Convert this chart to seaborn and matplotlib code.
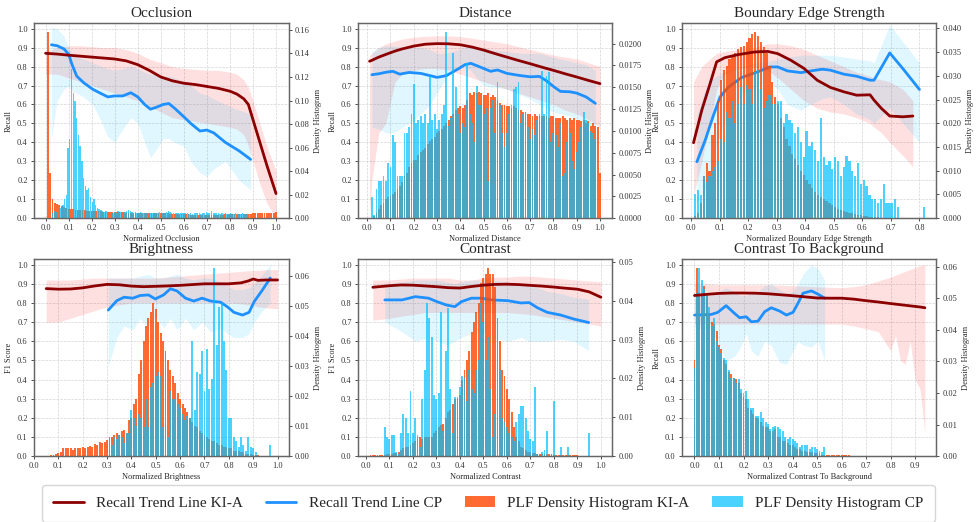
import numpy as np
import matplotlib
matplotlib.use("Agg")
import matplotlib.pyplot as plt
import seaborn as sns
from matplotlib.ticker import MultipleLocator
from matplotlib.patches import Patch
from matplotlib.lines import Line2D

# ---------------- Occlusion ----------------
occ_ka_x = [0.0, 0.05, 0.1, 0.15, 0.2, 0.25, 0.3, 0.35, 0.4, 0.45, 0.5, 0.55, 0.6, 0.65, 0.7, 0.75, 0.8, 0.83, 0.86, 0.88, 0.9, 0.93, 0.96, 1.0]
occ_ka_y = [0.87, 0.866, 0.86, 0.855, 0.85, 0.845, 0.84, 0.83, 0.81, 0.78, 0.745, 0.725, 0.712, 0.705, 0.695, 0.685, 0.67, 0.655, 0.63, 0.6, 0.52, 0.4, 0.28, 0.13]
occ_ka_hi = [0.88, 0.9, 0.91, 0.91, 0.905, 0.9, 0.9, 0.89, 0.87, 0.84, 0.82, 0.8, 0.79, 0.785, 0.78, 0.78, 0.77, 0.76, 0.73, 0.69, 0.62, 0.5, 0.38, 0.25]
occ_ka_lo = [0.76, 0.76, 0.74, 0.72, 0.7, 0.68, 0.66, 0.64, 0.62, 0.59, 0.56, 0.53, 0.52, 0.51, 0.5, 0.49, 0.48, 0.47, 0.44, 0.38, 0.3, 0.18, 0.08, 0.0]
occ_cp_x = [0.025, 0.05, 0.08, 0.1, 0.115, 0.135, 0.165, 0.205, 0.245, 0.27, 0.3, 0.335, 0.37, 0.4, 0.43, 0.455, 0.48, 0.51, 0.535, 0.56, 0.6, 0.63, 0.67, 0.7, 0.73, 0.78, 0.84, 0.89]
occ_cp_y = [0.915, 0.91, 0.893, 0.865, 0.81, 0.75, 0.715, 0.68, 0.655, 0.64, 0.645, 0.645, 0.662, 0.64, 0.6, 0.575, 0.585, 0.6, 0.605, 0.58, 0.535, 0.5, 0.46, 0.465, 0.45, 0.4, 0.355, 0.31]
occ_cp_hi = [1.01, 1.0, 0.96, 0.9, 0.87, 0.85, 0.84, 0.82, 0.8, 0.79, 0.78, 0.79, 0.8, 0.79, 0.77, 0.76, 0.76, 0.75, 0.75, 0.74, 0.72, 0.7, 0.66, 0.65, 0.63, 0.6, 0.57, 0.55]
occ_cp_lo = [0.42, 0.62, 0.68, 0.7, 0.67, 0.66, 0.64, 0.6, 0.5, 0.43, 0.4, 0.47, 0.53, 0.5, 0.4, 0.32, 0.36, 0.42, 0.42, 0.4, 0.38, 0.3, 0.24, 0.22, 0.26, 0.3, 0.2, 0.15]
occ_hka_range = (0.01, 1.0)
occ_hka = [0.158, 0.0386, 0.0161, 0.0129, 0.0121, 0.0113, 0.0105, 0.0097, 0.0089, 0.0081,
           0.0077, 0.0074, 0.0072, 0.0071, 0.0069, 0.0068, 0.0066, 0.0064, 0.0064, 0.0063,
           0.0061, 0.006, 0.0058, 0.0058, 0.0056, 0.0056, 0.0055, 0.0055, 0.0053, 0.0053,
           0.0052, 0.0052, 0.005, 0.005, 0.0048, 0.0048, 0.0048, 0.0048, 0.0047, 0.0047,
           0.0047, 0.0045, 0.0045, 0.0045, 0.0043, 0.0043, 0.0043, 0.0042, 0.0042, 0.0042,
           0.004, 0.004, 0.004, 0.0039, 0.0039, 0.0037, 0.0037, 0.0035, 0.0035, 0.0034,
           0.0032, 0.0032, 0.0031, 0.0029, 0.0027, 0.0026, 0.0026, 0.0024, 0.0024, 0.0024,
           0.0024, 0.0024, 0.0026, 0.0026, 0.0027, 0.0029, 0.0031, 0.0032, 0.0032, 0.0034,
           0.0034, 0.0035, 0.0035, 0.0035, 0.0037, 0.0037, 0.0037, 0.0039, 0.0039, 0.004,
           0.004, 0.0042, 0.0042, 0.0043, 0.0043, 0.0043, 0.0045, 0.0045, 0.0047, 0.0056]
occ_hcp_range = (0.03, 0.885)
occ_hcp = [0.0048, 0.0064, 0.0056, 0.0064, 0.008, 0.0089, 0.0113, 0.0161, 0.0193,
           0.0596, 0.0676, 0.1264, 0.1063, 0.0998, 0.0853, 0.0708, 0.0612, 0.0483, 0.0338, 0.0274,
           0.0242, 0.0258, 0.0177, 0.0137, 0.0161, 0.0113, 0.0089, 0.008, 0.0072,
           0.0064, 0.0056, 0.0064, 0.0048, 0.0056, 0.0048, 0.0048, 0.0056, 0.0048, 0.0064,
           0.0056, 0.0048, 0.0048, 0.0056, 0.0064, 0.0072, 0.0064, 0.0056, 0.0048, 0.0056,
           0.0048, 0.0048, 0.0056, 0.0048, 0.004, 0.0048, 0.0048, 0.004, 0.0048, 0.0048,
           0.004, 0.0048, 0.0048, 0.0056, 0.0048, 0.004, 0.0048, 0.0056, 0.0064, 0.0056,
           0.0048, 0.004, 0.0048, 0.0048, 0.004, 0.0048, 0.004, 0.0048, 0.0048, 0.004,
           0.0032, 0.004, 0.0032, 0.004, 0.004, 0.0048, 0.004, 0.0032, 0.004, 0.0048,
           0.0056, 0.0048, 0.004, 0.0064, 0.0048, 0.004, 0.0048, 0.004, 0.0032, 0.004,
           0.0032, 0.004, 0.0032, 0.0032, 0.004, 0.0032, 0.0032, 0.004, 0.0032, 0.0032,
           0.0032, 0.004, 0.0032, 0.0032, 0.0024, 0.0032]

# ---------------- Distance ----------------
dist_ka_x = [0.01, 0.02, 0.05, 0.08, 0.12, 0.15, 0.2, 0.25, 0.3, 0.35, 0.4, 0.45, 0.5, 0.55, 0.6, 0.65, 0.7, 0.75, 0.8, 0.85, 0.9, 0.95, 1.0]
dist_ka_y = [0.828, 0.833, 0.85, 0.864, 0.882, 0.893, 0.908, 0.918, 0.921, 0.92, 0.915, 0.903, 0.887, 0.868, 0.85, 0.832, 0.815, 0.797, 0.78, 0.762, 0.745, 0.727, 0.71]
dist_ka_hi = [0.86, 0.87, 0.9, 0.92, 0.935, 0.945, 0.955, 0.96, 0.962, 0.962, 0.958, 0.95, 0.94, 0.93, 0.92, 0.905, 0.89, 0.875, 0.86, 0.85, 0.84, 0.82, 0.8]
dist_ka_lo = [0.0, 0.2, 0.45, 0.5, 0.72, 0.76, 0.78, 0.79, 0.79, 0.78, 0.76, 0.74, 0.72, 0.7, 0.68, 0.66, 0.64, 0.62, 0.6, 0.57, 0.55, 0.52, 0.48]
dist_cp_x = [0.02, 0.05, 0.08, 0.11, 0.14, 0.18, 0.23, 0.27, 0.3, 0.34, 0.39, 0.42, 0.445, 0.47, 0.5, 0.53, 0.56, 0.6, 0.66, 0.7, 0.74, 0.77, 0.8, 0.83, 0.87, 0.9, 0.94, 0.98]
dist_cp_y = [0.757, 0.762, 0.77, 0.775, 0.76, 0.769, 0.764, 0.752, 0.743, 0.752, 0.787, 0.81, 0.817, 0.805, 0.79, 0.775, 0.782, 0.764, 0.752, 0.746, 0.748, 0.725, 0.695, 0.669, 0.667, 0.66, 0.64, 0.606]
dist_cp_hi = [0.88, 0.9, 0.91, 0.91, 0.905, 0.9, 0.9, 0.89, 0.87, 0.87, 0.89, 0.9, 0.91, 0.905, 0.9, 0.89, 0.885, 0.88, 0.87, 0.87, 0.87, 0.86, 0.85, 0.84, 0.83, 0.82, 0.81, 0.78]
dist_cp_lo = [0.48, 0.47, 0.45, 0.45, 0.47, 0.5, 0.55, 0.6, 0.66, 0.74, 0.8, 0.8, 0.78, 0.74, 0.7, 0.69, 0.69, 0.68, 0.65, 0.63, 0.6, 0.58, 0.56, 0.55, 0.54, 0.52, 0.5, 0.47]
dist_hka_range = (0.02, 1.0)
dist_hka = [0.0, 0.0002, 0.00065, 0.0011, 0.0015, 0.0017, 0.0022, 0.0024, 0.0026, 0.0028,
            0.003, 0.0033, 0.0037, 0.0041, 0.0048, 0.0052, 0.0059, 0.0063, 0.0067, 0.0067,
            0.0072, 0.0076, 0.0078, 0.008, 0.0085, 0.0089, 0.0091, 0.0093, 0.0098, 0.01,
            0.0102, 0.0106, 0.0109, 0.0113, 0.0117, 0.0119, 0.0124, 0.0126, 0.0128, 0.0126,
            0.013, 0.0135, 0.0143, 0.0141, 0.0145, 0.0143, 0.0145, 0.0143, 0.0141, 0.0141,
            0.0143, 0.0139, 0.0141, 0.0139, 0.0135, 0.0132, 0.013, 0.013, 0.0128, 0.0128,
            0.0126, 0.0128, 0.0126, 0.0124, 0.0124, 0.0122, 0.0122, 0.0119, 0.0119, 0.0117,
            0.0119, 0.0117, 0.0117, 0.0117, 0.0117, 0.0117, 0.0115, 0.0117, 0.0117, 0.0115,
            0.0115, 0.0115, 0.0117, 0.0115, 0.0113, 0.0115, 0.0113, 0.0115, 0.0113, 0.0113,
            0.0111, 0.0113, 0.0109, 0.0111, 0.0106, 0.0109, 0.0106, 0.0104, 0.0052]
dist_hcp_range = (0.02, 0.98)
dist_hcp = [0.0024, 0.0004, 0.0033, 0.0043, 0.0043, 0.0048, 0.0043, 0.0063, 0.0059, 0.0095,
            0.0087, 0.0048, 0.0048, 0.0048, 0.0098, 0.0098, 0.0104, 0.0119, 0.0154, 0.0109,
            0.0113, 0.0117, 0.0109, 0.0119, 0.0109, 0.0163, 0.0113, 0.0119, 0.0102, 0.0113,
            0.0119, 0.013, 0.0213, 0.0106, 0.0115, 0.0189, 0.015, 0.0119, 0.0098, 0.0109,
            0.0104, 0.0178, 0.0119, 0.0109, 0.0087, 0.0152, 0.013, 0.013, 0.0119, 0.0126,
            0.0043, 0.0126, 0.0135, 0.0098, 0.0156, 0.013, 0.0098, 0.0082, 0.0098, 0.0119,
            0.013, 0.0148, 0.015, 0.0156, 0.0109, 0.0119, 0.0109, 0.0104, 0.0091, 0.0102,
            0.0095, 0.0113, 0.0119, 0.0169, 0.0119, 0.0163, 0.0167, 0.0087, 0.0098, 0.0095,
            0.0082, 0.0109, 0.0048, 0.0052, 0.0087, 0.0098, 0.0065, 0.0056, 0.0076, 0.0087,
            0.0104, 0.0122, 0.0113, 0.0109, 0.01, 0.0098, 0.0091]

# ---------------- Boundary Edge Strength ----------------
bes_ka_x = [0.009, 0.038, 0.067, 0.09, 0.119, 0.165, 0.223, 0.269, 0.304, 0.35, 0.396, 0.442, 0.488, 0.535, 0.58, 0.627, 0.641, 0.667, 0.696, 0.742, 0.777]
bes_ka_y = [0.398, 0.57, 0.71, 0.825, 0.847, 0.863, 0.877, 0.88, 0.868, 0.833, 0.79, 0.728, 0.69, 0.667, 0.649, 0.651, 0.623, 0.579, 0.539, 0.535, 0.539]
bes_ka_hi = [0.72, 0.8, 0.84, 0.87, 0.88, 0.89, 0.9, 0.92, 0.92, 0.91, 0.89, 0.86, 0.83, 0.8, 0.77, 0.75, 0.74, 0.73, 0.72, 0.68, 0.62]
bes_ka_lo = [0.12, 0.3, 0.5, 0.68, 0.76, 0.79, 0.8, 0.78, 0.74, 0.68, 0.62, 0.58, 0.56, 0.55, 0.53, 0.5, 0.48, 0.45, 0.4, 0.33, 0.27]
bes_cp_x = [0.021, 0.05, 0.079, 0.102, 0.13, 0.177, 0.234, 0.275, 0.304, 0.338, 0.385, 0.419, 0.46, 0.488, 0.535, 0.58, 0.627, 0.641, 0.696, 0.742, 0.8]
bes_cp_y = [0.298, 0.412, 0.544, 0.64, 0.69, 0.742, 0.772, 0.798, 0.798, 0.777, 0.768, 0.777, 0.786, 0.781, 0.76, 0.749, 0.728, 0.728, 0.872, 0.789, 0.679]
bes_cp_hi = [0.55, 0.68, 0.74, 0.76, 0.78, 0.8, 0.82, 0.83, 0.84, 0.85, 0.86, 0.86, 0.86, 0.86, 0.85, 0.84, 0.83, 0.82, 1.02, 0.93, 0.82]
bes_cp_lo = [0.08, 0.15, 0.3, 0.45, 0.55, 0.65, 0.7, 0.72, 0.68, 0.6, 0.57, 0.6, 0.63, 0.64, 0.6, 0.55, 0.52, 0.5, 0.58, 0.5, 0.4]
bes_hka_range = (0.015, 0.655)
bes_hka = [0.0004, 0.0012, 0.0032, 0.0088, 0.0116, 0.01, 0.0176, 0.02, 0.0248, 0.0292,
           0.0312, 0.032, 0.0336, 0.034, 0.0348, 0.0356, 0.036, 0.0364, 0.0372, 0.038,
           0.0388, 0.0392, 0.0384, 0.0372, 0.036, 0.0348, 0.032, 0.0288, 0.0256, 0.024,
           0.0212, 0.0192, 0.0168, 0.0152, 0.0136, 0.0124, 0.0112, 0.01, 0.0092, 0.008,
           0.0072, 0.0064, 0.0056, 0.0048, 0.0044, 0.004, 0.0036, 0.0032, 0.0028, 0.0024,
           0.002, 0.0018, 0.0016, 0.0014, 0.0012, 0.001, 0.0008, 0.0007, 0.0006, 0.0005,
           0.0004, 0.0003, 0.00024, 0.0002, 0.00016]
bes_hcp_range = (0.015, 0.815)
bes_hcp = [0.0052, 0.006, 0.0048, 0.0088, 0.0076, 0.0088, 0.01, 0.0108, 0.012, 0.0168,
           0.016, 0.0224, 0.0212, 0.0248, 0.02, 0.024, 0.0276, 0.024, 0.028, 0.0272,
           0.024, 0.0308, 0.0312, 0.0272, 0.0232, 0.0248, 0.026, 0.024, 0.024, 0.0248,
           0.0248, 0.02, 0.022, 0.0208, 0.02, 0.018, 0.0192, 0.016, 0.0128, 0.0184,
           0.0152, 0.016, 0.0144, 0.012, 0.0212, 0.0128, 0.0112, 0.012, 0.0104, 0.0128,
           0.012, 0.0088, 0.0108, 0.0132, 0.012, 0.01, 0.0088, 0.0116, 0.0072, 0.008,
           0.0068, 0.0048, 0.004, 0.004, 0.0032, 0.004, 0.0072, 0.0032, 0.0032, 0.0032,
           0.004, 0.0024, 0, 0, 0, 0, 0, 0, 0, 0, 0.0024]

# ---------------- Brightness ----------------
bri_ka_x = [0.05, 0.1, 0.15, 0.2, 0.25, 0.3, 0.35, 0.4, 0.45, 0.5, 0.55, 0.6, 0.65, 0.7, 0.75, 0.8, 0.85, 0.88, 0.9, 0.92, 0.95, 1.0]
bri_ka_y = [0.875, 0.872, 0.873, 0.879, 0.889, 0.897, 0.895, 0.888, 0.885, 0.887, 0.889, 0.892, 0.896, 0.9, 0.9, 0.9, 0.905, 0.915, 0.925, 0.918, 0.92, 0.92]
bri_ka_hi = [0.92, 0.92, 0.92, 0.925, 0.93, 0.93, 0.93, 0.93, 0.93, 0.93, 0.935, 0.94, 0.945, 0.95, 0.955, 0.96, 0.965, 0.968, 0.97, 0.97, 0.973, 0.975]
bri_ka_lo = [0.7, 0.7, 0.72, 0.74, 0.76, 0.78, 0.79, 0.8, 0.8, 0.8, 0.8, 0.8, 0.8, 0.8, 0.8, 0.8, 0.795, 0.79, 0.785, 0.78, 0.775, 0.77]
bri_cp_x = [0.305, 0.34, 0.37, 0.406, 0.436, 0.47, 0.498, 0.532, 0.56, 0.587, 0.622, 0.656, 0.69, 0.725, 0.766, 0.794, 0.821, 0.856, 0.883, 0.904, 0.938, 0.97]
bri_cp_y = [0.763, 0.812, 0.83, 0.825, 0.839, 0.842, 0.821, 0.842, 0.874, 0.863, 0.825, 0.81, 0.825, 0.81, 0.804, 0.78, 0.751, 0.737, 0.751, 0.807, 0.868, 0.93]
bri_cp_hi = [0.93, 0.93, 0.93, 0.93, 0.94, 0.95, 0.93, 0.93, 0.94, 0.95, 0.93, 0.92, 0.93, 0.93, 0.91, 0.89, 0.87, 0.87, 0.88, 0.9, 0.95, 1.0]
bri_cp_lo = [0.47, 0.62, 0.68, 0.66, 0.72, 0.66, 0.73, 0.67, 0.72, 0.66, 0.72, 0.66, 0.7, 0.65, 0.67, 0.64, 0.62, 0.62, 0.64, 0.7, 0.76, 0.8]
bri_hka_range = (0.07, 0.97)
bri_hka = [0.0003, 0.0003, 0.0006, 0.001, 0.0013, 0.0029, 0.0029, 0.0026, 0.0029, 0.0022,
           0.0029, 0.0026, 0.0029, 0.0032, 0.0029, 0.0032, 0.0035, 0.0032, 0.0042, 0.0038,
           0.0048, 0.0045, 0.0048, 0.0054, 0.0064, 0.0064, 0.007, 0.0077, 0.007, 0.0083,
           0.0089, 0.0077, 0.0121, 0.0128, 0.0173, 0.0192, 0.0275, 0.032, 0.0383, 0.0435,
           0.046, 0.0479, 0.0511, 0.0492, 0.0447, 0.0409, 0.0383, 0.0351, 0.032, 0.0288,
           0.0268, 0.0243, 0.0211, 0.0192, 0.0173, 0.016, 0.0147, 0.0128, 0.0115, 0.0102,
           0.0096, 0.0083, 0.0077, 0.007, 0.0064, 0.0058, 0.0051, 0.0051, 0.0045, 0.0038,
           0.0038, 0.0032, 0.0032, 0.0026, 0.0026, 0.0019, 0.0019, 0.0016, 0.0013, 0.0013,
           0.0006, 0.0006, 0.0006, 0.0003, 0.0003, 0.00026, 0.0002, 0.0002, 0.00013, 0.00013, 0.00013]
bri_hcp_range = (0.31, 0.97)
bri_hcp = [0.0032, 0.0038, 0.0064, 0.0058, 0.007, 0.0064, 0.0045, 0.0077, 0.0077, 0.0153,
           0.0128, 0.0102, 0.0141, 0.0128, 0.0096, 0.0192, 0.0096, 0.023, 0.0243, 0.0268,
           0.0281, 0.0268, 0.0096, 0.0294, 0.0064, 0.0217, 0.0192, 0.0192, 0.0173, 0.016,
           0.0141, 0.0121, 0.0134, 0.0128, 0.0383, 0.0153, 0.0281, 0.0275, 0.0351, 0.0217,
           0.0358, 0.0224, 0.0256, 0.0626, 0.0371, 0.0498, 0.0511, 0.0383, 0.0288, 0.0128,
           0.0128, 0.0064, 0.0051, 0.0032, 0.0064, 0.0038, 0.0019, 0.0064, 0.0032, 0.0026,
           0.0013, 0.0, 0.0, 0.0, 0.0, 0.0, 0.0038]

# ---------------- Contrast ----------------
con_ka_x = [0.03, 0.1, 0.15, 0.2, 0.25, 0.3, 0.35, 0.4, 0.45, 0.5, 0.55, 0.6, 0.65, 0.7, 0.75, 0.8, 0.85, 0.9, 0.95, 1.0]
con_ka_y = [0.882, 0.89, 0.894, 0.893, 0.889, 0.885, 0.88, 0.878, 0.886, 0.893, 0.897, 0.898, 0.896, 0.892, 0.888, 0.883, 0.877, 0.872, 0.858, 0.83]
con_ka_hi = [0.92, 0.92, 0.925, 0.93, 0.93, 0.93, 0.93, 0.92, 0.92, 0.93, 0.935, 0.935, 0.94, 0.94, 0.935, 0.93, 0.925, 0.92, 0.915, 0.91]
con_ka_lo = [0.71, 0.72, 0.73, 0.74, 0.75, 0.75, 0.75, 0.75, 0.75, 0.75, 0.75, 0.75, 0.745, 0.74, 0.73, 0.72, 0.71, 0.7, 0.69, 0.68]
con_cp_x = [0.081, 0.154, 0.211, 0.267, 0.302, 0.344, 0.379, 0.407, 0.449, 0.492, 0.534, 0.604, 0.66, 0.695, 0.73, 0.772, 0.829, 0.885, 0.948]
con_cp_y = [0.816, 0.816, 0.833, 0.825, 0.807, 0.789, 0.781, 0.807, 0.825, 0.825, 0.816, 0.812, 0.8, 0.802, 0.775, 0.751, 0.737, 0.716, 0.698]
con_cp_hi = [0.9, 0.91, 0.92, 0.92, 0.92, 0.91, 0.9, 0.91, 0.92, 0.92, 0.92, 0.91, 0.9, 0.9, 0.88, 0.86, 0.85, 0.83, 0.82]
con_cp_lo = [0.7, 0.65, 0.6, 0.62, 0.6, 0.58, 0.6, 0.62, 0.64, 0.65, 0.62, 0.6, 0.62, 0.6, 0.6, 0.6, 0.61, 0.6, 0.55]
con_hka_range = (0.02, 0.99)
con_hka = [0.00025, 0.00025, 0.00025, 0.00025, 0.00025, 0.00025, 0.00025, 0.0005, 0.0005, 0.0005,
           0.00074, 0.00074, 0.001, 0.0015, 0.002, 0.0025, 0.0025, 0.003, 0.0035, 0.0039,
           0.0049, 0.0049, 0.0044, 0.0049, 0.0049, 0.0049, 0.0049, 0.0059, 0.0064, 0.0074,
           0.0079, 0.0084, 0.0099, 0.0113, 0.0118, 0.0133, 0.0148, 0.0148, 0.0158, 0.0197,
           0.0222, 0.0247, 0.0271, 0.032, 0.0345, 0.037, 0.0394, 0.0444, 0.0458, 0.0468,
           0.0483, 0.0468, 0.0468, 0.0434, 0.0355, 0.0296, 0.0222, 0.0207, 0.0173, 0.0148,
           0.0113, 0.0074, 0.0049, 0.0039, 0.0025, 0.002, 0.0015, 0.001, 0.001, 0.00074,
           0.00074, 0.0006, 0.0006, 0.0005, 0.0005, 0.0005, 0.0005, 0.0005, 0.0004, 0.0004,
           0.0004, 0.00035, 0.00035, 0.0003, 0.0003, 0.00025, 0.00025, 0.0002, 0.0002, 0.00015,
           0.00015, 0.00015, 0.0001, 0.0001, 0.0001, 0.0001, 0.0001, 0.0001]
con_hcp_range = (0.08, 0.95)
con_hcp = [0.0074, 0.0049, 0.0044, 0.0054, 0.0054, 0.001, 0.0005, 0.0059, 0.0108, 0.0099,
           0.0059, 0.0168, 0.0059, 0.0099, 0.0054, 0.0025, 0.0148, 0.0222, 0.0394, 0.0355,
           0.0306, 0.0158, 0.0148, 0.0163, 0.037, 0.0064, 0.0271, 0.038, 0.0173, 0.0059,
           0.0153, 0.0153, 0.0177, 0.0207, 0.0202, 0.0143, 0.0222, 0.0173, 0.0163, 0.0222,
           0.0247, 0.0394, 0.0345, 0.0247, 0.0306, 0.0173, 0.0049, 0.0108, 0.0207, 0.0222,
           0.0099, 0.0089, 0.0074, 0.0059, 0.0049, 0.0039, 0.0089, 0.0108, 0.0128, 0.0128,
           0.0099, 0.0064, 0.0044, 0.0039, 0.0177, 0.0005, 0.0, 0.001, 0.0015, 0.0064,
           0.0, 0.0, 0.0143, 0.0, 0.0, 0.0025, 0.0, 0.0, 0.0025, 0.0,
           0.0, 0.0, 0.0, 0.0, 0.0, 0.0, 0.0, 0.0059]

# ---------------- Contrast To Background ----------------
ctb_ka_x = [0.0, 0.05, 0.1, 0.15, 0.2, 0.25, 0.3, 0.35, 0.4, 0.45, 0.5, 0.55, 0.6, 0.65, 0.7, 0.75, 0.8, 0.82, 0.84, 0.86, 0.88, 0.9, 0.92, 0.94]
ctb_ka_y = [0.839, 0.845, 0.85, 0.852, 0.852, 0.851, 0.848, 0.843, 0.838, 0.832, 0.826, 0.825, 0.825, 0.82, 0.812, 0.805, 0.797, 0.794, 0.791, 0.788, 0.785, 0.782, 0.779, 0.775]
ctb_ka_hi = [0.9, 0.9, 0.895, 0.895, 0.895, 0.895, 0.895, 0.893, 0.89, 0.888, 0.885, 0.882, 0.88, 0.885, 0.895, 0.915, 0.935, 0.945, 0.955, 0.965, 0.975, 0.985, 0.995, 1.0]
ctb_ka_lo = [0.69, 0.69, 0.69, 0.69, 0.69, 0.69, 0.69, 0.69, 0.69, 0.69, 0.69, 0.69, 0.69, 0.68, 0.665, 0.65, 0.55, 0.63, 0.5, 0.48, 0.6, 0.4, 0.35, 0.12]
ctb_cp_x = [0.0, 0.068, 0.095, 0.129, 0.163, 0.184, 0.211, 0.232, 0.259, 0.286, 0.313, 0.347, 0.375, 0.402, 0.422, 0.443, 0.477, 0.504, 0.531]
ctb_cp_y = [0.737, 0.74, 0.751, 0.786, 0.746, 0.723, 0.728, 0.702, 0.705, 0.754, 0.775, 0.758, 0.737, 0.751, 0.798, 0.851, 0.863, 0.846, 0.825]
ctb_cp_hi = [0.83, 0.84, 0.86, 0.88, 0.86, 0.84, 0.84, 0.85, 0.86, 0.89, 0.9, 0.87, 0.85, 0.86, 0.9, 0.95, 1.0, 0.98, 0.92]
ctb_cp_lo = [0.67, 0.66, 0.6, 0.5, 0.52, 0.56, 0.64, 0.55, 0.52, 0.6, 0.58, 0.49, 0.48, 0.55, 0.6, 0.58, 0.57, 0.6, 0.5]
ctb_hka_range = (0.0, 0.72)
ctb_hka = [0.0304, 0.0595, 0.0516, 0.0516, 0.054, 0.0516, 0.0455, 0.0425, 0.0419, 0.0395,
           0.0352, 0.034, 0.0304, 0.0291, 0.0267, 0.0261, 0.0249, 0.0243, 0.0231, 0.02,
           0.0188, 0.0182, 0.0152, 0.0146, 0.0134, 0.0121, 0.0121, 0.0109, 0.0097, 0.0091,
           0.0091, 0.0079, 0.0079, 0.0085, 0.0061, 0.0061, 0.0049, 0.0049, 0.0042, 0.0036,
           0.0036, 0.003, 0.0024, 0.0024, 0.0018, 0.0018, 0.0012, 0.0012, 0.0012, 0.0009,
           0.0009, 0.0006, 0.0005, 0.0005, 0.00042, 0.00042, 0.00036, 0.00036, 0.0003, 0.0003,
           0.0003, 0.00024, 0.00024, 0.00024, 0.00018, 0.00018, 0.00018, 0.00012, 0.00012, 0.00012,
           0.00012, 0.00012, 0.00012]
ctb_hcp_range = (0.0, 0.53)
ctb_hcp = [0.0279, 0.0516, 0.0595, 0.0558, 0.0528, 0.051, 0.0473, 0.0413, 0.0437, 0.0364,
           0.0346, 0.0328, 0.031, 0.0304, 0.0273, 0.0249, 0.0249, 0.0231, 0.0243, 0.0212,
           0.02, 0.0206, 0.0182, 0.0152, 0.0152, 0.0127, 0.0127, 0.014, 0.0121, 0.0109,
           0.0103, 0.0085, 0.0091, 0.0097, 0.0091, 0.0085, 0.0079, 0.0061, 0.0055, 0.0061,
           0.0055, 0.0049, 0.0042, 0.003, 0.0036, 0.0036, 0.0036, 0.0024, 0.003, 0.003,
           0.0024, 0.0018, 0.0012, 0.003]

titles = ["Occlusion", "Distance", "Boundary Edge Strength", "Brightness", "Contrast", "Contrast To Background"]
xlabels = ["Normalized Occlusion", "Normalized Distance", "Normalized Boundary Edge Strength",
           "Normalized Brightness", "Normalized Contrast", "Normalized Contrast To Background"]
ylabels = ["Recall", "Recall", "Recall", "F1 Score", "F1 Score", "Recall"]
legend_labels = ["Recall Trend Line KI-A", "Recall Trend Line CP",
                 "PLF Density Histogram KI-A", "PLF Density Histogram CP"]

panels = [
    (occ_ka_x, occ_ka_y, occ_ka_lo, occ_ka_hi, occ_cp_x, occ_cp_y, occ_cp_lo, occ_cp_hi, occ_hka_range, occ_hka, occ_hcp_range, occ_hcp),
    (dist_ka_x, dist_ka_y, dist_ka_lo, dist_ka_hi, dist_cp_x, dist_cp_y, dist_cp_lo, dist_cp_hi, dist_hka_range, dist_hka, dist_hcp_range, dist_hcp),
    (bes_ka_x, bes_ka_y, bes_ka_lo, bes_ka_hi, bes_cp_x, bes_cp_y, bes_cp_lo, bes_cp_hi, bes_hka_range, bes_hka, bes_hcp_range, bes_hcp),
    (bri_ka_x, bri_ka_y, bri_ka_lo, bri_ka_hi, bri_cp_x, bri_cp_y, bri_cp_lo, bri_cp_hi, bri_hka_range, bri_hka, bri_hcp_range, bri_hcp),
    (con_ka_x, con_ka_y, con_ka_lo, con_ka_hi, con_cp_x, con_cp_y, con_cp_lo, con_cp_hi, con_hka_range, con_hka, con_hcp_range, con_hcp),
    (ctb_ka_x, ctb_ka_y, ctb_ka_lo, ctb_ka_hi, ctb_cp_x, ctb_cp_y, ctb_cp_lo, ctb_cp_hi, ctb_hka_range, ctb_hka, ctb_hcp_range, ctb_hcp),
]

sns.set_theme(style="white")
plt.rcParams["font.family"] = ["Liberation Serif", "DejaVu Serif"]
plt.rcParams["axes.unicode_minus"] = False

DARKRED = "#8B0000"
BLUE = "#1E90FF"
ORANGE = "#FF4500"
SKY = "#00BFFF"
EDGE = "#666666"

fig = plt.figure(figsize=(9.77, 5.22), dpi=100)

col_left = [0.0348, 0.3664, 0.698]
col_w = 0.2605
row_bottom = [0.582, 0.126]
row_h = [0.374, 0.378]

for i, p in enumerate(panels):
    (kx, ky, klo, khi, cx, cy, clo, chi, hkr, hka, hcr, hcp) = p
    r, c = divmod(i, 3)
    ax = fig.add_axes([col_left[c], row_bottom[r], col_w, row_h[r]])
    ax.fill_between(kx, klo, khi, color="red", alpha=0.12, lw=0, zorder=1)
    ax.fill_between(cx, clo, chi, color=SKY, alpha=0.12, lw=0, zorder=1)
    sns.lineplot(x=cx, y=cy, ax=ax, color=BLUE, lw=2.0, zorder=3)
    ax.set_ylim(0, 1.03)
    ax.yaxis.set_major_locator(MultipleLocator(0.1))
    ax.xaxis.set_major_locator(MultipleLocator(0.1))
    ax.grid(True, ls="--", lw=0.5, color="#d5d5d5")
    ax.set_axisbelow(True)
    ax.set_title(titles[i], fontsize=11, pad=4)
    ax.set_xlabel(xlabels[i], fontsize=6, labelpad=2)
    ax.set_ylabel(ylabels[i], fontsize=6, labelpad=3)
    ax.tick_params(axis="both", labelsize=6, length=2.5, width=0.6, colors="#333333", pad=2,
                   left=True, bottom=True)

    ax2 = ax.twinx()
    n1 = len(hka)
    x1 = np.linspace(hkr[0], hkr[1], n1)
    w1 = (hkr[1] - hkr[0]) / (n1 - 1) * 0.8
    ax2.bar(x1, hka, width=w1, color=ORANGE, alpha=0.8, lw=0)
    n2 = len(hcp)
    x2 = np.linspace(hcr[0], hcr[1], n2)
    w2 = (hcr[1] - hcr[0]) / (n2 - 1) * 0.8
    ax2.bar(x2, hcp, width=w2, color=SKY, alpha=0.7, lw=0)
    ax2.set_ylabel("Density Histogram", fontsize=6, labelpad=3)
    ax2.tick_params(axis="y", labelsize=6, length=2.5, width=0.6, colors="#333333", pad=2, right=True)
    ax2.grid(False)
    if i == 3:
        ax.set_xlim(0.0, 1.045)
    xl = ax.get_xlim()
    yl2 = ax2.get_ylim()
    # KI-A trend line drawn above the histogram bars, in the left-axis (recall) coordinates
    sns.lineplot(x=kx, y=ky, ax=ax2, color=DARKRED, lw=2.0, zorder=5, transform=ax.transData)
    ax2.set_ylim(yl2)
    ax.set_xlim(xl)
    for a in (ax, ax2):
        for s in a.spines.values():
            s.set_color(EDGE)
            s.set_linewidth(0.9)

handles = [Line2D([0], [0], color=DARKRED, lw=2.0),
           Line2D([0], [0], color=BLUE, lw=2.0),
           Patch(facecolor=ORANGE, alpha=0.8, edgecolor="none"),
           Patch(facecolor=SKY, alpha=0.7, edgecolor="none")]
fig.legend(handles, legend_labels, loc="center", ncol=4, mode="expand",
           bbox_to_anchor=(0.043, 0.001, 0.914, 0.07), fontsize=11, frameon=True,
           edgecolor="#cccccc", fancybox=True, handlelength=2.0, borderaxespad=0.0,
           borderpad=0.75)

fig.savefig("out.png", dpi=100)
